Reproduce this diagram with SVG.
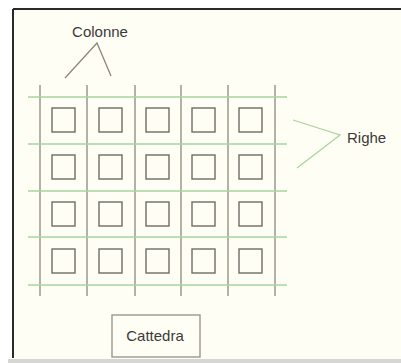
<svg xmlns="http://www.w3.org/2000/svg" width="401" height="363" viewBox="0 0 401 363">
<style>
.v{stroke:#8c877c;stroke-width:1.3}
.h{stroke:#a6d6a0;stroke-width:1.3}
.desk{fill:none;stroke:#6e6c66;stroke-width:1.4}
.lbl{font-family:"Liberation Sans",Arial,sans-serif;font-size:15px;fill:#3a3a3a}
.brace1{stroke:#8c877c;stroke-width:1.3;fill:none}
.brace2{stroke:#a6d6a0;stroke-width:1.3;fill:none}
</style>
<rect x="0" y="0" width="401" height="363" fill="#ffffff"/>
<rect x="13" y="9" width="388" height="350" fill="#fffef4"/>
<line x1="13" y1="9" x2="401" y2="9" stroke="#2a2a2a" stroke-width="2"/>
<line x1="13" y1="9" x2="13" y2="358" stroke="#2a2a2a" stroke-width="2"/>
<rect x="8" y="359" width="393" height="4" fill="#d6d6d6"/>
<g id="connectors">
<line class="v" x1="40" y1="85" x2="40" y2="296"/>
<line class="v" x1="87" y1="85" x2="87" y2="296"/>
<line class="v" x1="135" y1="85" x2="135" y2="296"/>
<line class="v" x1="181" y1="85" x2="181" y2="296"/>
<line class="v" x1="228" y1="85" x2="228" y2="296"/>
<line class="v" x1="275" y1="85" x2="275" y2="296"/>
<line class="h" x1="28" y1="97" x2="287" y2="97"/>
<line class="h" x1="28" y1="144" x2="287" y2="144"/>
<line class="h" x1="28" y1="191" x2="287" y2="191"/>
<line class="h" x1="28" y1="237" x2="287" y2="237"/>
<line class="h" x1="28" y1="285" x2="287" y2="285"/>
<polyline class="brace1" points="65,78 97,43 111,76"/>
<polyline class="brace2" points="293,120 340,135 297,168"/>
</g>
<g id="desks">
<rect class="desk" x="52" y="108" width="23" height="24"/>
<rect class="desk" x="99" y="108" width="23" height="24"/>
<rect class="desk" x="146" y="108" width="23" height="24"/>
<rect class="desk" x="192" y="108" width="23" height="24"/>
<rect class="desk" x="239" y="108" width="23" height="24"/>
<rect class="desk" x="52" y="155" width="23" height="24"/>
<rect class="desk" x="99" y="155" width="23" height="24"/>
<rect class="desk" x="146" y="155" width="23" height="24"/>
<rect class="desk" x="192" y="155" width="23" height="24"/>
<rect class="desk" x="239" y="155" width="23" height="24"/>
<rect class="desk" x="52" y="202" width="23" height="24"/>
<rect class="desk" x="99" y="202" width="23" height="24"/>
<rect class="desk" x="146" y="202" width="23" height="24"/>
<rect class="desk" x="192" y="202" width="23" height="24"/>
<rect class="desk" x="239" y="202" width="23" height="24"/>
<rect class="desk" x="52" y="249" width="23" height="24"/>
<rect class="desk" x="99" y="249" width="23" height="24"/>
<rect class="desk" x="146" y="249" width="23" height="24"/>
<rect class="desk" x="192" y="249" width="23" height="24"/>
<rect class="desk" x="239" y="249" width="23" height="24"/>
</g>
<g id="colonne"><text class="lbl" x="100" y="37" text-anchor="middle">Colonne</text></g>
<g id="righe"><text class="lbl" x="347" y="143">Righe</text></g>
<g id="cattedra">
<rect x="112" y="315" width="88" height="42" fill="#fffef4" stroke="#9a9890" stroke-width="1.4"/>
<text class="lbl" x="155" y="341" text-anchor="middle">Cattedra</text>
</g>
</svg>
